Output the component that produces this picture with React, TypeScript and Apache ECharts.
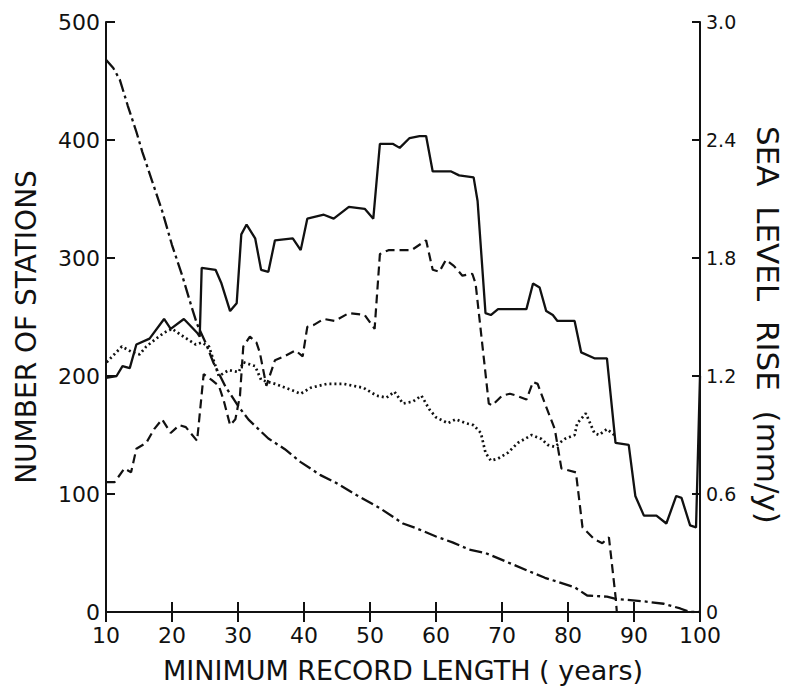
import React, { useEffect, useRef } from "react";
import * as echarts from "echarts";

// Solid curve: sea level rise (mm/y), right axis
const solidYears = [10, 11.6, 12.5, 13.6, 14.6, 16.6, 18.8, 19.8, 21.8, 23.8, 24.2, 24.5, 26.6, 27.5, 28.8, 29.8, 30.5, 31.3, 32.6, 33.5, 34.6, 35.6, 38.3, 39.5, 40.5, 43.0, 44.5, 46.8, 49.2, 50.5, 51.5, 53.5, 54.5, 56.0, 57.5, 58.5, 59.5, 62.3, 63.5, 65.7, 66.3, 67.5, 68.3, 69.4, 73.7, 74.7, 75.7, 76.7, 77.7, 78.4, 81.0, 82.0, 84.0, 85.9, 87.2, 89.2, 90.2, 91.5, 93.4, 94.9, 96.4, 97.2, 98.5, 99.4, 100];
const solidRise = [1.19, 1.20, 1.25, 1.24, 1.36, 1.39, 1.49, 1.44, 1.49, 1.42, 1.40, 1.75, 1.74, 1.67, 1.53, 1.57, 1.92, 1.97, 1.90, 1.74, 1.73, 1.89, 1.90, 1.84, 2.00, 2.02, 2.00, 2.06, 2.05, 2.00, 2.38, 2.38, 2.36, 2.41, 2.42, 2.42, 2.24, 2.24, 2.22, 2.21, 2.09, 1.52, 1.51, 1.54, 1.54, 1.67, 1.65, 1.53, 1.51, 1.48, 1.48, 1.32, 1.29, 1.29, 0.86, 0.85, 0.59, 0.49, 0.49, 0.45, 0.59, 0.58, 0.44, 0.43, 1.20];

// Dashed curve: sea level rise (mm/y), right axis
const dashedYears = [10.1, 11.3, 12.8, 13.8, 14.6, 16.1, 17.3, 18.5, 19.8, 21.1, 22.1, 23.8, 24.8, 26.0, 27.1, 27.8, 28.8, 29.6, 30.3, 30.8, 31.8, 32.8, 33.3, 34.3, 35.6, 37.0, 38.7, 39.8, 40.5, 41.5, 43.0, 44.7, 46.8, 49.2, 50.7, 51.5, 52.8, 55.2, 56.3, 58.5, 59.5, 60.5, 61.5, 62.7, 64.0, 65.5, 66.0, 68.0, 68.5, 70.0, 71.2, 72.2, 73.7, 74.7, 75.4, 76.5, 78.0, 79.0, 81.2, 82.2, 84.0, 85.2, 86.2, 87.2, 87.4];
const dashedRise = [0.66, 0.66, 0.73, 0.71, 0.83, 0.86, 0.93, 0.98, 0.91, 0.95, 0.94, 0.87, 1.21, 1.18, 1.15, 1.08, 0.95, 0.98, 1.10, 1.35, 1.40, 1.37, 1.32, 1.15, 1.28, 1.30, 1.33, 1.30, 1.45, 1.46, 1.49, 1.48, 1.52, 1.51, 1.44, 1.82, 1.84, 1.84, 1.84, 1.89, 1.74, 1.73, 1.79, 1.76, 1.71, 1.72, 1.67, 1.06, 1.05, 1.10, 1.11, 1.10, 1.08, 1.17, 1.16, 1.06, 0.93, 0.73, 0.71, 0.43, 0.37, 0.35, 0.38, 0.08, 0];

// Dotted curve: sea level rise (mm/y), right axis
const dottedYears = [10.1, 12.4, 14.0, 15.1, 16.1, 17.6, 18.8, 20.0, 21.3, 23.6, 24.5, 25.6, 27.1, 28.6, 30.1, 30.8, 32.6, 33.5, 35.6, 38.0, 39.5, 41.0, 43.5, 46.0, 49.0, 51.0, 52.5, 53.7, 55.0, 56.5, 57.8, 59.0, 60.0, 61.8, 63.0, 64.5, 65.7, 66.8, 67.5, 68.3, 69.4, 70.9, 72.4, 74.5, 76.0, 76.9, 78.0, 79.5, 81.0, 81.4, 82.7, 84.0, 84.7, 85.9, 87.0];
const dottedRise = [1.27, 1.35, 1.32, 1.31, 1.35, 1.39, 1.42, 1.44, 1.41, 1.36, 1.37, 1.35, 1.20, 1.23, 1.22, 1.27, 1.25, 1.18, 1.16, 1.13, 1.11, 1.14, 1.16, 1.16, 1.14, 1.10, 1.09, 1.12, 1.06, 1.07, 1.10, 1.03, 0.99, 0.96, 0.98, 0.96, 0.95, 0.91, 0.81, 0.77, 0.78, 0.81, 0.86, 0.90, 0.88, 0.85, 0.84, 0.88, 0.90, 0.96, 1.01, 0.91, 0.90, 0.93, 0.90];

// Dash-dot curve: number of stations, left axis
const stationYears = [10, 11.1, 12.1, 13.3, 14.6, 15.5, 17.0, 18.5, 20.0, 21.5, 23.0, 23.8, 25.1, 26.3, 28.1, 30.1, 31.6, 33.1, 34.6, 37.1, 39.5, 42.5, 45.0, 48.0, 51.5, 55.0, 57.0, 60.0, 62.5, 65.0, 67.5, 70.5, 73.9, 76.5, 81.0, 82.9, 85.9, 87.4, 91.5, 94.5, 97.0, 98.5, 100];
const stationCounts = [468, 461, 451, 429, 407, 390, 365, 340, 311, 286, 258, 244, 228, 211, 191, 174, 163, 155, 147, 138, 127, 116, 109, 99, 88, 75, 71, 64, 59, 53, 50, 43, 35, 29, 21, 14, 13, 11, 9, 7, 3, 0, 0];

const xTitle = "MINIMUM RECORD LENGTH ( years)";
const leftTitle = "NUMBER OF STATIONS";
const rightTitle = "SEA  LEVEL  RISE  (mm/y)";

const zip = (xs: number[], ys: number[]) => xs.map((x, i) => [x, ys[i]]);

const INK = "#111";
const FONT = "DejaVu Sans";

export default function App() {
  const ref = useRef<HTMLDivElement>(null);
  useEffect(() => {
    document.body.style.margin = "0";
    if (!ref.current) return;
    const chart = echarts.init(ref.current, null, { renderer: "svg" });
    const axisLine = { show: true, lineStyle: { color: INK, width: 2 } };
    const lineBase = { type: "line", showSymbol: false, symbol: "none", smooth: false };
    chart.setOption({
      animation: false,
      backgroundColor: "#fff",
      grid: { left: 106, right: 84, top: 22, bottom: 71 },
      xAxis: [
        {
          type: "value",
          position: "bottom",
          min: 10,
          max: 100,
          interval: 10,
          axisLine,
          axisTick: { show: true, inside: true, length: 10, lineStyle: { color: INK, width: 2 } },
          axisLabel: { color: INK, fontSize: 22, lineHeight: 20, fontFamily: FONT, margin: 13 },
          splitLine: { show: false },
          name: xTitle,
          nameLocation: "middle",
          nameGap: 45,
          nameTextStyle: { color: INK, fontSize: 27, fontFamily: FONT },
        },
        {
          type: "value",
          position: "top",
          min: 10,
          max: 100,
          interval: 10,
          axisLine,
          axisTick: { show: true, inside: true, length: 10, lineStyle: { color: INK, width: 2 } },
          axisLabel: { show: false },
          splitLine: { show: false },
        },
      ],
      yAxis: [
        {
          type: "value",
          position: "left",
          min: 0,
          max: 500,
          interval: 100,
          axisLine,
          axisTick: { show: true, inside: true, length: 9, lineStyle: { color: INK, width: 2 } },
          axisLabel: { color: INK, fontSize: 22, lineHeight: 18, fontFamily: FONT, margin: 6 },
          splitLine: { show: false },
          name: leftTitle,
          nameLocation: "middle",
          nameGap: 66,
          nameRotate: 90,
          nameTextStyle: { color: INK, fontSize: 28, fontFamily: FONT, padding: [0, 20, 0, 0] },
        },
        {
          type: "value",
          position: "right",
          min: 0,
          max: 3,
          interval: 0.6,
          axisLine,
          axisTick: { show: true, inside: true, length: 8, lineStyle: { color: INK, width: 2 } },
          axisLabel: {
            color: INK,
            fontSize: 19,
            lineHeight: 16,
            fontFamily: FONT,
            margin: 6,
            formatter: (v: number) => (v === 0 ? "0" : v.toFixed(1)),
          },
          splitLine: { show: false },
          name: rightTitle,
          nameLocation: "middle",
          nameGap: 52,
          nameRotate: -90,
          nameTextStyle: { color: INK, fontSize: 31, fontFamily: FONT, padding: [0, 0, 0, 16] },
        },
      ],
      series: [
        {
          ...lineBase,
          name: "solid",
          xAxisIndex: 0,
          yAxisIndex: 1,
          data: zip(solidYears, solidRise),
          lineStyle: { color: INK, width: 2.3, type: "solid" },
        },
        {
          ...lineBase,
          name: "dashed",
          xAxisIndex: 0,
          yAxisIndex: 1,
          data: zip(dashedYears, dashedRise),
          lineStyle: { color: INK, width: 2.2, type: [9, 5] },
        },
        {
          ...lineBase,
          name: "dotted",
          xAxisIndex: 0,
          yAxisIndex: 1,
          data: zip(dottedYears, dottedRise),
          lineStyle: { color: INK, width: 2.7, type: [2, 3] },
        },
        {
          ...lineBase,
          name: "stations",
          xAxisIndex: 0,
          yAxisIndex: 0,
          data: zip(stationYears, stationCounts),
          lineStyle: { color: INK, width: 2.3, type: [13, 4, 3, 4] },
        },
      ],
    });
    return () => chart.dispose();
  }, []);
  return <div ref={ref} style={{ width: 791, height: 689 }} />;
}
